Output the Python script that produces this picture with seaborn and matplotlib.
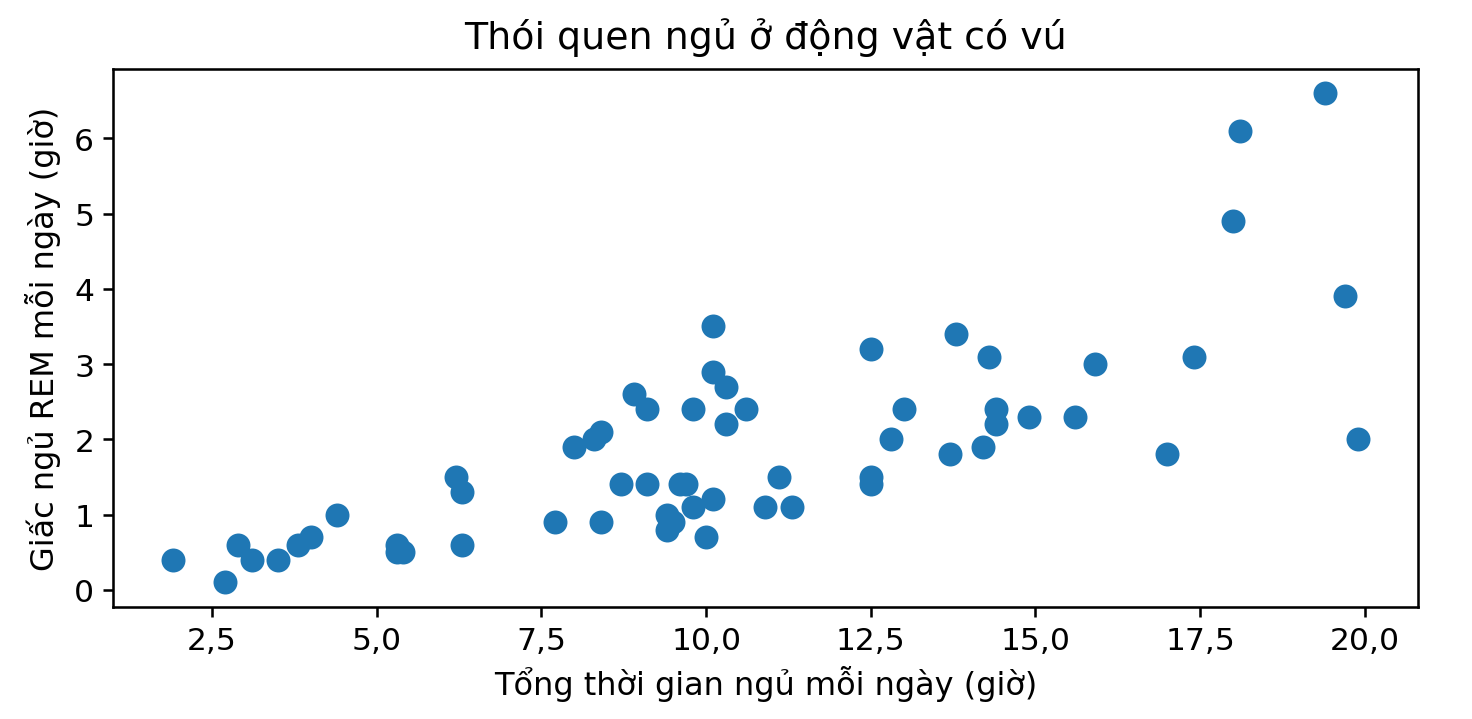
import matplotlib
matplotlib.use("Agg")
import matplotlib.pyplot as plt
import matplotlib.ticker as mticker
import seaborn as sns
import pandas as pd

sleep_total = [1.9, 2.7, 2.9, 3.1, 3.5, 3.8, 4.0, 4.4, 5.3, 5.3, 5.4, 6.2, 6.3, 6.3,
               7.7, 8.0, 8.3, 8.4, 8.4, 8.7, 8.9, 9.1, 9.1, 9.4, 9.4, 9.5, 9.6, 9.7,
               9.8, 9.8, 10.0, 10.1, 10.1, 10.1, 10.3, 10.3, 10.6, 10.9, 11.1, 11.3,
               12.5, 12.5, 12.5, 12.8, 13.0, 13.7, 13.8, 14.2, 14.3, 14.4, 14.4,
               14.9, 15.6, 15.9, 17.0, 17.4, 18.0, 18.1, 19.4, 19.7, 19.9]
sleep_rem = [0.4, 0.1, 0.6, 0.4, 0.4, 0.6, 0.7, 1.0, 0.6, 0.5, 0.5, 1.5, 1.3, 0.6,
             0.9, 1.9, 2.0, 2.1, 0.9, 1.4, 2.6, 2.4, 1.4, 1.0, 0.8, 0.9, 1.4, 1.4,
             2.4, 1.1, 0.7, 1.2, 3.5, 2.9, 2.7, 2.2, 2.4, 1.1, 1.5, 1.1,
             3.2, 1.5, 1.4, 2.0, 2.4, 1.8, 3.4, 1.9, 3.1, 2.4, 2.2,
             2.3, 2.3, 3.0, 1.8, 3.1, 4.9, 6.1, 6.6, 3.9, 2.0]

title = "Thói quen ngủ ở động vật có vú"
xlabel = "Tổng thời gian ngủ mỗi ngày (giờ)"
ylabel = "Giấc ngủ REM mỗi ngày (giờ)"

df = pd.DataFrame({"sleep_total": sleep_total, "sleep_rem": sleep_rem})

sns.set_style("ticks")
plt.rcParams["font.family"] = ["DejaVu Sans"]
plt.rcParams["text.color"] = "black"
plt.rcParams["axes.labelcolor"] = "black"
plt.rcParams["xtick.color"] = "black"
plt.rcParams["ytick.color"] = "black"

fig = plt.figure(figsize=(8, 3.913), dpi=184)
ax = fig.add_axes([0.077, 0.156, 0.886, 0.747])
sns.scatterplot(data=df, x="sleep_total", y="sleep_rem", ax=ax,
                color="#1f77b4", s=88, linewidth=0)

ax.set_title(title, fontsize=14.8, pad=8, color="black")
ax.set_xlabel(xlabel, fontsize=12.5, labelpad=4)
ax.set_ylabel(ylabel, fontsize=12.5, labelpad=5)
ax.tick_params(labelsize=12.3, colors="black", width=1, length=4)
ax.xaxis.set_major_locator(mticker.MultipleLocator(2.5))
ax.xaxis.set_major_formatter(mticker.FuncFormatter(lambda v, p: f"{v:.1f}".replace(".", ",")))
ax.yaxis.set_major_locator(mticker.MultipleLocator(1))
for sp in ax.spines.values():
    sp.set_color("black")
    sp.set_linewidth(1.0)

fig.savefig("out.png", dpi=184, facecolor="white")
